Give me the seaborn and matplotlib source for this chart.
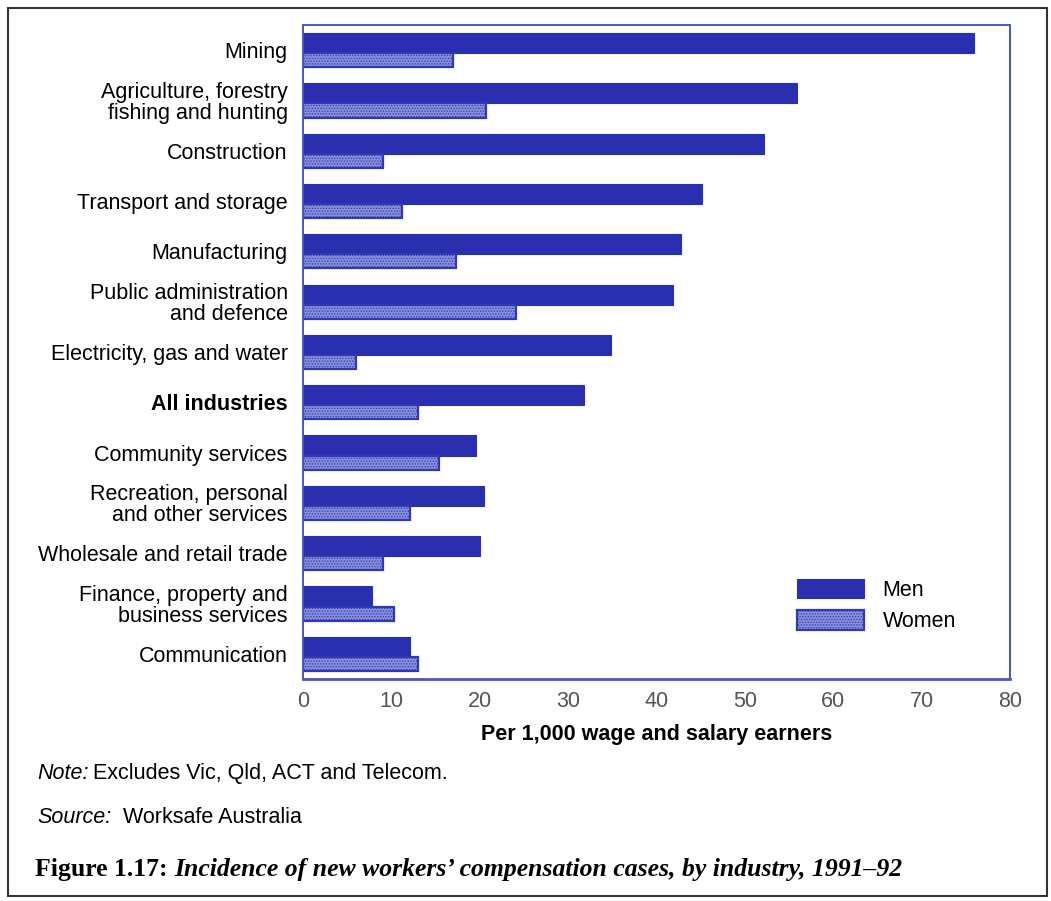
import matplotlib
matplotlib.use("Agg")
import matplotlib.pyplot as plt
from matplotlib.patches import Rectangle
import pandas as pd
import seaborn as sns

industries = [
    "Mining",
    "Agriculture, forestry\nfishing and hunting",
    "Construction",
    "Transport and storage",
    "Manufacturing",
    "Public administration\nand defence",
    "Electricity, gas and water",
    "All industries",
    "Community services",
    "Recreation, personal\nand other services",
    "Wholesale and retail trade",
    "Finance, property and\nbusiness services",
    "Communication",
]
men = [75.9, 55.9, 52.2, 45.2, 42.8, 41.9, 34.8, 31.8, 19.6, 20.5, 20.0, 7.8, 12.1]
women = [17.0, 20.7, 9.0, 11.2, 17.3, 24.1, 6.0, 13.0, 15.4, 12.1, 9.0, 10.3, 13.0]
series = ["Men", "Women"]
x_ticks = [0, 10, 20, 30, 40, 50, 60, 70, 80]

MEN_COLOR = "#2a2fb0"
WOMEN_COLOR = "#8790d8"
AXIS_BLUE = "#4b56c6"
FS = 15.5

df = pd.DataFrame({
    "industry": industries * 2,
    "rate": men + women,
    "sex": [series[0]] * len(men) + [series[1]] * len(women),
})

sns.set_style("white")
plt.rcParams["font.family"] = ["Liberation Sans", "DejaVu Sans"]
plt.rcParams["text.color"] = "black"
plt.rcParams["axes.labelcolor"] = "black"
plt.rcParams["hatch.linewidth"] = 0.6

fig = plt.figure(figsize=(10.51, 9.01), dpi=100)
ax = fig.add_axes([0.2883, 0.2464, 0.6727, 0.7259])

sns.barplot(
    data=df, x="rate", y="industry", hue="sex", orient="h",
    order=industries, hue_order=series,
    palette=[MEN_COLOR, WOMEN_COLOR], saturation=1,
    width=0.72, dodge=True, legend=False, ax=ax,
)

# men bar a little thicker than the women bar beneath it
men_bars, women_bars = ax.containers[0], ax.containers[1]
for i, p in enumerate(men_bars.patches):
    p.set_y(i - 0.34)
    p.set_height(0.40)
    p.set_edgecolor(MEN_COLOR)
    p.set_linewidth(0.8)
for i, p in enumerate(women_bars.patches):
    p.set_y(i + 0.06)
    p.set_height(0.28)
    p.set_facecolor(WOMEN_COLOR)
    p.set_edgecolor("#3038b4")
    p.set_linewidth(1.6)
    p.set_hatch("......")

ax.set_xlim(0, 80)
ax.set_ylim(len(industries) - 0.5, -0.5)
ax.set_xticks(x_ticks)
ax.set_xticklabels([str(t) for t in x_ticks], fontsize=FS, color="#555555")
ax.tick_params(axis="x", direction="out", length=7, width=1.2, color=AXIS_BLUE, pad=2)
ax.tick_params(axis="y", length=0, pad=11, labelsize=FS)
for lab in ax.get_yticklabels():
    lab.set_color("black")
    lab.set_linespacing(1.0)
    if lab.get_text() == "All industries":
        lab.set_fontweight("bold")

for side in ["left", "right", "top", "bottom"]:
    ax.spines[side].set_visible(True)
    ax.spines[side].set_color(AXIS_BLUE)
    ax.spines[side].set_linewidth(1.4)
ax.spines["bottom"].set_linewidth(2.0)

ax.set_ylabel("")
ax.set_xlabel("Per 1,000 wage and salary earners", fontsize=FS,
              fontweight="bold", labelpad=8, color="black")

ax.legend(
    handles=[men_bars, women_bars], labels=series,
    loc="upper left", bbox_to_anchor=(0.672, 0.183), frameon=False,
    fontsize=FS, handlelength=3.1, handleheight=1.0,
    handletextpad=0.85, labelspacing=0.45, labelcolor="black",
)

fig.canvas.draw()
W = fig.bbox.width


def lead_and_text(baseline_px, lead, body, body_x_px):
    """Italic lead-in word followed by upright text on the same baseline."""
    y = 1 - baseline_px / 901
    t = fig.text(37 / 1051, y, lead, fontsize=FS, style="italic",
                 va="baseline", ha="left")
    fig.canvas.draw()
    x_end = t.get_window_extent().x1 / W
    fig.text(max(body_x_px / 1051, x_end + 0.004), y, body, fontsize=FS,
             va="baseline", ha="left")


# notes and caption beneath the chart
lead_and_text(779, "Note:", "Excludes Vic, Qld, ACT and Telecom.", 83)
lead_and_text(823, "Source:", "Worksafe Australia", 123)

serif = ["Liberation Serif", "DejaVu Serif"]
cap_y = 1 - 876 / 901
t1 = fig.text(35 / 1051, cap_y, "Figure 1.17:", fontsize=18.5, fontweight="bold",
              family=serif, va="baseline", ha="left")
fig.canvas.draw()
bb = t1.get_window_extent()
fig.text(bb.x1 / W + 0.006, cap_y,
         "Incidence of new workers\u2019 compensation cases, by industry, 1991\u201392",
         fontsize=18.5, fontweight="bold", style="italic", family=serif,
         va="baseline", ha="left")

# page frame
fig.add_artist(Rectangle((8 / 1051, 1 - 896 / 901), 1039 / 1051, 888 / 901,
                         transform=fig.transFigure, fill=False,
                         edgecolor="#333333", linewidth=1.5))

fig.savefig("out.png", dpi=100, facecolor="white")
